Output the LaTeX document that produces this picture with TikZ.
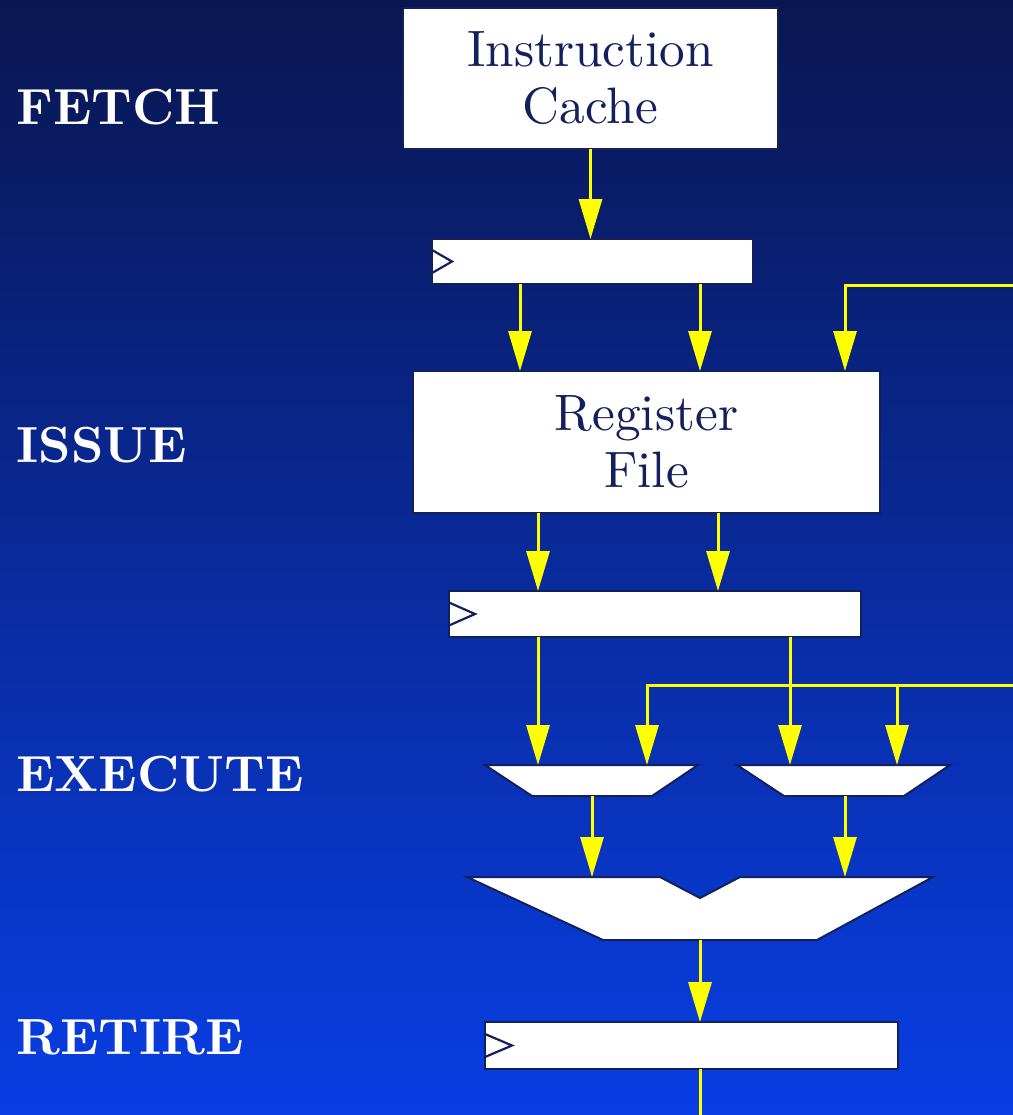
\documentclass[tikz,border=0pt]{standalone}
\usetikzlibrary{arrows.meta}
\definecolor{navy}{RGB}{18,32,92}
\definecolor{wire}{RGB}{255,255,0}
\definecolor{bgtop}{RGB}{10,22,80}
\definecolor{bgbot}{RGB}{8,62,228}
\font\unitfont="[lmroman10-regular]:+tlig;" at 25.6pt
\font\stagefont="[lmroman10-bold]:+tlig;" at 25.4pt
\tikzset{
  block/.style={draw=navy, line width=0.8pt, fill=white, text=navy, align=center,
    inner sep=0pt, outer sep=0pt, font={\unitfont\baselineskip=28.5pt}},
  latch/.style={draw=navy, line width=0.8pt, fill=white, inner sep=0pt, outer sep=0pt},
  unit/.style={draw=navy, line width=1pt, fill=white, line join=miter},
  clock/.style={draw=navy, line width=1.1pt},
  flow/.style={draw=wire, line width=1.5pt, -{Triangle[length=20pt,width=11.5pt]}},
  bus/.style={draw=wire, line width=1.5pt},
  stage/.style={text=white, anchor=base west, inner sep=0pt, font=\stagefont},
}
\begin{document}
\begin{tikzpicture}[x=0.5pt,y=0.5pt,yscale=-1,xscale=1]
    % Background
    \shade[top color=bgtop,bottom color=bgbot] (0,0) rectangle (1013,1115);
    \useasboundingbox (0,0) rectangle (1013,1115);

    % Guide coordinates for the wire columns
    \coordinate (p1) at (520,0);
    \coordinate (p2) at (700,0);
    \coordinate (p3) at (845,0);
    \coordinate (p4) at (538,0);
    \coordinate (p5) at (718,0);
    \coordinate (p6) at (790,0);
    \coordinate (fb) at (1013,285);
    \coordinate (byp) at (1013,685);
    \coordinate (out) at (700,1115);

    % Stage labels
    \node[stage] (fetch) at (16,124) {FETCH};
    \node[stage] (issue) at (16,462) {ISSUE};
    \node[stage] (execute) at (16,791) {EXECUTE};
    \node[stage] (retire) at (16,1054) {RETIRE};

    % Fetch
    \node[block, minimum width=187.5pt, minimum height=70.5pt] (icache) at (590.5,78.5) {Instruction\\Cache};
    \node[latch, minimum width=160.5pt, minimum height=22.5pt] (flatch) at (592.5,261.5) {};
    \draw[clock] ([yshift=5.75pt]flatch.west) -- ++(10pt,-5.75pt) -- ++(-10pt,-5.75pt);

    % Issue
    \node[block, minimum width=233.5pt, minimum height=71pt] (regfile) at (646.5,442) {Register\\File};
    \node[latch, minimum width=206pt, minimum height=23pt] (ilatch) at (655,614) {};
    \draw[clock] ([yshift=5.75pt]ilatch.west) -- ++(13pt,-5.75pt) -- ++(-13pt,-5.75pt);

    % Execute: operand muxes
    \draw[unit] (485,765) -- (698,765) -- (652,796) -- (532,796) -- cycle;
    \coordinate (m1in1) at (538,765);
    \coordinate (m1in2) at (647,765);
    \coordinate (m1out) at (592,796);
    \draw[unit] (737,765) -- (950,765) -- (904,796) -- (784,796) -- cycle;
    \coordinate (m2in1) at (790,765);
    \coordinate (m2in2) at (897,765);
    \coordinate (m2out) at (845,796);

    % Execute: ALU
    \draw[unit] (467,877) -- (660,877) -- (700,898) -- (740,877) -- (933,877)
        -- (817,940) -- (603,940) -- cycle;
    \coordinate (aluin1) at (592,877);
    \coordinate (aluin2) at (845,877);
    \coordinate (aluout) at (700,940);

    % Retire
    \node[latch, minimum width=206.5pt, minimum height=23.5pt] (rlatch) at (691.5,1045.5) {};
    \draw[clock] ([yshift=5.75pt]rlatch.west) -- ++(13.5pt,-5.75pt) -- ++(-13.5pt,-5.75pt);

    % Wires
    \draw[flow] (icache.south) -- (icache.south |- flatch.north);
    \draw[flow] (flatch.south -| p1) -- (regfile.north -| p1);
    \draw[flow] (flatch.south -| p2) -- (regfile.north -| p2);
    \draw[flow] (fb) -| (regfile.north -| p3);
    \draw[flow] (regfile.south -| p4) -- (ilatch.north -| p4);
    \draw[flow] (regfile.south -| p5) -- (ilatch.north -| p5);
    \draw[flow] (ilatch.south -| p4) -- (m1in1);
    \draw[flow] (ilatch.south -| p6) -- (m2in1);
    \draw[flow] (byp) -| (m1in2);
    \draw[flow] (byp -| m2in2) -- (m2in2);
    \draw[flow] (m1out) -- (aluin1);
    \draw[flow] (m2out) -- (aluin2);
    \draw[flow] (aluout) -- (rlatch.north -| aluout);
    \draw[bus] (rlatch.south -| aluout) -- (out);
\end{tikzpicture}
\end{document}
